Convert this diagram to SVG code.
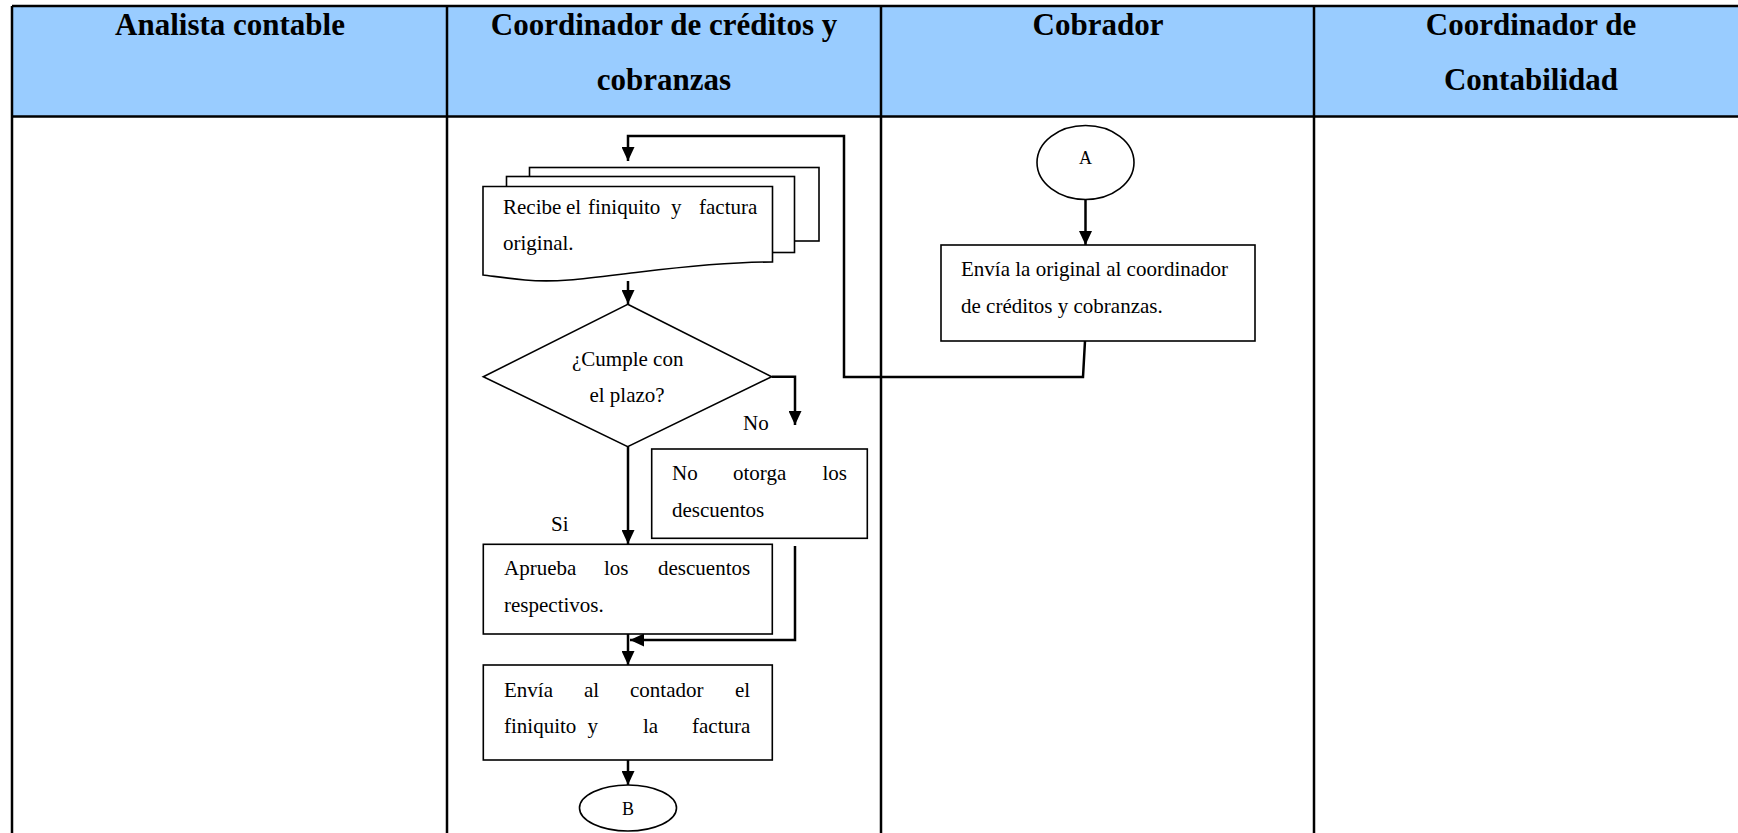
<svg xmlns="http://www.w3.org/2000/svg" width="1738" height="833" viewBox="0 0 1738 833">
  <defs>
    <marker id="arrow" markerUnits="userSpaceOnUse" markerWidth="14" markerHeight="13" refX="14" refY="6.5" orient="auto">
      <path d="M0,0 L14,6.5 L0,13 Z" fill="#000"/>
    </marker>
    <style>
      .lane-line { stroke: #000; stroke-width: 2.5; fill: none; }
      .head { font-family: "Liberation Serif", "Times New Roman", serif; font-weight: bold; font-size: 31px; fill: #000; }
      .shape { fill: #fff; stroke: #000; stroke-width: 1.6; }
      .txt { font-family: "Liberation Serif", "Times New Roman", serif; font-size: 21px; fill: #000; }
      .conn { fill: none; stroke: #000; stroke-width: 2.5; marker-end: url(#arrow); }
    </style>
  </defs>

  <!-- swimlane table -->
  <g id="lanes">
    <rect x="12" y="6" width="1740" height="110.5" fill="#99CCFF"/>
    <line class="lane-line" x1="12" y1="6" x2="1738" y2="6"/>
    <line class="lane-line" x1="12" y1="116.5" x2="1738" y2="116.5"/>
    <line class="lane-line" x1="12" y1="6" x2="12" y2="833"/>
    <line class="lane-line" x1="447" y1="6" x2="447" y2="833"/>
    <line class="lane-line" x1="881" y1="6" x2="881" y2="833"/>
    <line class="lane-line" x1="1314" y1="6" x2="1314" y2="833"/>
    <text class="head" x="230" y="34.5" text-anchor="middle">Analista contable</text>
    <text class="head" x="664" y="34.5" text-anchor="middle">Coordinador de créditos y</text>
    <text class="head" x="664" y="90" text-anchor="middle">cobranzas</text>
    <text class="head" x="1098" y="34.5" text-anchor="middle">Cobrador</text>
    <text class="head" x="1531" y="34.5" text-anchor="middle">Coordinador de</text>
    <text class="head" x="1531" y="90" text-anchor="middle">Contabilidad</text>
  </g>

  <!-- connectors -->
  <g id="connectors">
    <path class="conn" d="M1085,341 L1083,377 L844,377 L844,136 L628,136 L628,161"/>
    <path class="conn" d="M628,281 L628,304"/>
    <path class="conn" d="M771.7,376.7 L795,376.7 L795,425"/>
    <path class="conn" d="M628,446.7 L628,544"/>
    <path class="conn" d="M795,546 L795,640 L630,640"/>
    <path class="conn" d="M628,634 L628,665"/>
    <path class="conn" d="M628,760 L628,785"/>
    <path class="conn" d="M1085.5,199.5 L1085.5,245"/>
  </g>

  <g id="conector-a">
    <ellipse class="shape" cx="1085.5" cy="162.5" rx="48.5" ry="37"/>
    <text class="txt" x="1085.5" y="164" text-anchor="middle" style="font-size:18px">A</text>
  </g>

  <g id="envia-original">
    <rect class="shape" x="941" y="245" width="314" height="96"/>
    <text class="txt" x="961" y="276">Envía la original al coordinador</text>
    <text class="txt" x="961" y="313">de créditos y cobranzas.</text>
  </g>

  <g id="recibe-finiquito">
    <rect class="shape" x="529.5" y="167.5" width="289.5" height="73.5"/>
    <rect class="shape" x="506.5" y="176.5" width="288" height="76"/>
    <path class="shape" d="M483,186.5 L772.5,186.5 L772.5,262 C735,262 690,266 640,272 C590,278 560,283 525,280 C505,278 492,276 483,275 Z"/>
    <text class="txt" y="214"><tspan x="503">Recibe</tspan><tspan x="566">el</tspan><tspan x="588">finiquito</tspan><tspan x="671">y</tspan><tspan x="699">factura</tspan></text>
    <text class="txt" x="503" y="250">original.</text>
  </g>

  <g id="cumple-plazo">
    <polygon class="shape" points="627.7,304.3 771.7,376.7 627.7,446.7 483.3,376.7"/>
    <text class="txt" x="627.7" y="366" text-anchor="middle">¿Cumple con</text>
    <text class="txt" x="627" y="402" text-anchor="middle">el plazo?</text>
  </g>

  <g id="etiqueta-no">
    <text class="txt" x="743" y="430">No</text>
  </g>

  <g id="etiqueta-si">
    <text class="txt" x="551" y="531">Si</text>
  </g>

  <g id="no-otorga">
    <rect class="shape" x="651.7" y="449" width="215.6" height="89.3"/>
    <text class="txt" y="480"><tspan x="672">No</tspan><tspan x="733">otorga</tspan><tspan x="822.5">los</tspan></text>
    <text class="txt" x="672" y="517">descuentos</text>
  </g>

  <g id="aprueba-descuentos">
    <rect class="shape" x="483.3" y="544.3" width="289" height="89.7"/>
    <text class="txt" y="575"><tspan x="504">Aprueba</tspan><tspan x="604">los</tspan><tspan x="658">descuentos</tspan></text>
    <text class="txt" x="504" y="612">respectivos.</text>
  </g>

  <g id="envia-contador">
    <rect class="shape" x="483.3" y="665" width="289" height="95"/>
    <text class="txt" y="697"><tspan x="504">Envía</tspan><tspan x="584">al</tspan><tspan x="630">contador</tspan><tspan x="735">el</tspan></text>
    <text class="txt" y="733"><tspan x="504">finiquito</tspan><tspan x="587.5">y</tspan><tspan x="643">la</tspan><tspan x="692">factura</tspan></text>
  </g>

  <g id="conector-b">
    <ellipse class="shape" cx="628" cy="808" rx="48.5" ry="23"/>
    <text class="txt" x="628" y="815" text-anchor="middle" style="font-size:18px">B</text>
  </g>
</svg>
